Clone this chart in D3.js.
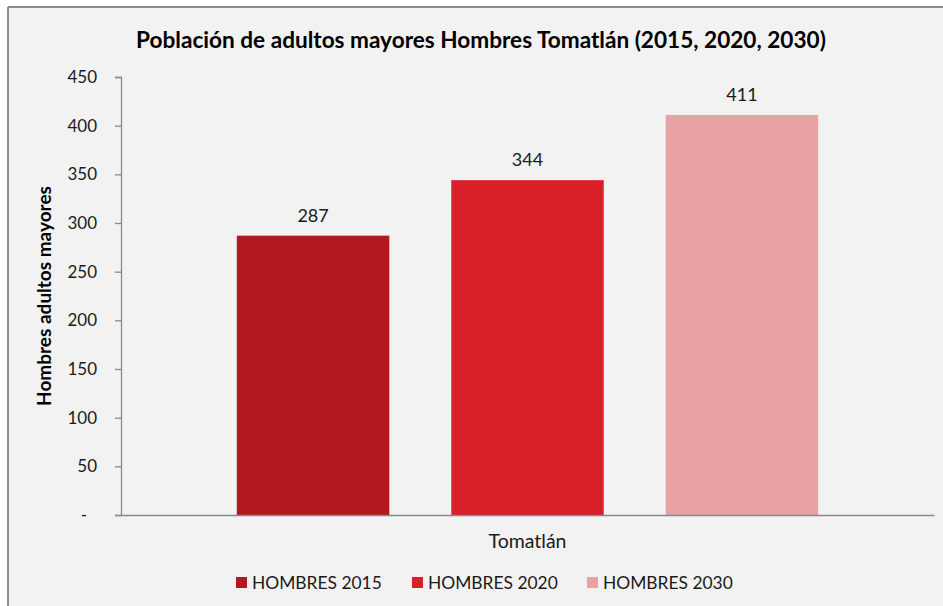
<!DOCTYPE html>
<html><head><meta charset="utf-8">
<script src="https://cdn.jsdelivr.net/npm/d3@7"></script>
<style>html,body{margin:0;padding:0;background:#fff;} svg{display:block;font-family:Lato,"Open Sans",sans-serif;}</style>
</head><body>
<svg id="c" width="943" height="606"></svg>
<script>
const title = "Población de adultos mayores Hombres Tomatlán (2015, 2020, 2030)";
const yTitle = "Hombres adultos mayores";
const categories = ["Tomatlán"];
const seriesNames = ["HOMBRES 2015", "HOMBRES 2020", "HOMBRES 2030"];
const seriesValues = [287, 344, 411];
const seriesColors = ["#b1181f", "#d91f28", "#e8a2a4"];
const yTicks = [0, 50, 100, 150, 200, 250, 300, 350, 400, 450];

const svg = d3.select("#c");
svg.append("rect").attr("x", 8).attr("y", 7).attr("width", 940).attr("height", 605).attr("fill", "#f2f2f2");
svg.append("line").attr("x1", 8).attr("x2", 943).attr("y1", 7).attr("y2", 7).attr("stroke", "#8c8c8c").attr("stroke-width", 2);
svg.append("line").attr("x1", 8).attr("x2", 8).attr("y1", 7).attr("y2", 606).attr("stroke", "#8c8c8c").attr("stroke-width", 2);

const L = 121, R = 934, T = 77, B = 515;
const y = d3.scaleLinear().domain([0, 450]).range([B, T]);
const x0 = d3.scaleBand().domain(categories).range([L, R]).padding(0);
const x1 = d3.scaleBand().domain(seriesNames).range([0, x0.bandwidth()]).paddingInner(0.289).paddingOuter(0.54);

svg.append("text").attr("x", 481).attr("y", 48).attr("text-anchor", "middle")
  .attr("font-weight", "bold").attr("font-size", 22.6).attr("fill", "#000").text(title);

const yAxis = d3.axisLeft(y).tickValues(yTicks).tickSize(6).tickPadding(18)
  .tickFormat(d => d === 0 ? "-" : d);
const gy = svg.append("g").attr("transform", `translate(${L},0)`).call(yAxis);
gy.select(".domain").attr("stroke", "#898989").attr("stroke-width", 1.3);
gy.selectAll(".tick line").attr("stroke", "#898989").attr("stroke-width", 1.3);
gy.selectAll(".tick text").attr("font-size", 17).attr("fill", "#1a1a1a").attr("font-family", "Lato, sans-serif");
gy.selectAll(".tick text").filter(d => d === 0).attr("dx", -10);

svg.append("text").attr("transform", "translate(51,296) rotate(-90)").attr("text-anchor", "middle")
  .attr("font-weight", "bold").attr("font-size", 19).attr("fill", "#000").text(yTitle);

const g = svg.append("g");
const data = seriesNames.map((s, i) => ({ cat: categories[0], name: s, value: seriesValues[i], color: seriesColors[i] }));
g.selectAll("rect.bar").data(data).join("rect").attr("class", "bar")
  .attr("x", d => x0(d.cat) + x1(d.name)).attr("width", x1.bandwidth())
  .attr("y", d => y(d.value)).attr("height", d => y(0) - y(d.value))
  .attr("fill", d => d.color);
g.selectAll("text.lbl").data(data).join("text").attr("class", "lbl")
  .attr("x", d => x0(d.cat) + x1(d.name) + x1.bandwidth() / 2).attr("y", d => y(d.value) - 14)
  .attr("text-anchor", "middle").attr("font-size", 18).attr("fill", "#1a1a1a").text(d => d.value);

const xAxis = d3.axisBottom(x0).tickSize(0).tickPadding(19);
const gx = svg.append("g").attr("transform", `translate(0,${B})`).call(xAxis);
gx.select(".domain").attr("stroke", "#898989").attr("stroke-width", 1.3);
gx.selectAll(".tick text").attr("font-size", 19.5).attr("fill", "#1a1a1a").attr("font-family", "Lato, sans-serif");

const legX = [236, 412, 587];
const leg = svg.append("g").selectAll("g").data(data).join("g")
  .attr("transform", (d, i) => `translate(${legX[i]},577)`);
leg.append("rect").attr("width", 11).attr("height", 11).attr("fill", d => d.color);
leg.append("text").attr("x", 16).attr("y", 11.5).attr("font-size", 17.4).attr("fill", "#1a1a1a").text(d => d.name);
</script>
</body></html>
